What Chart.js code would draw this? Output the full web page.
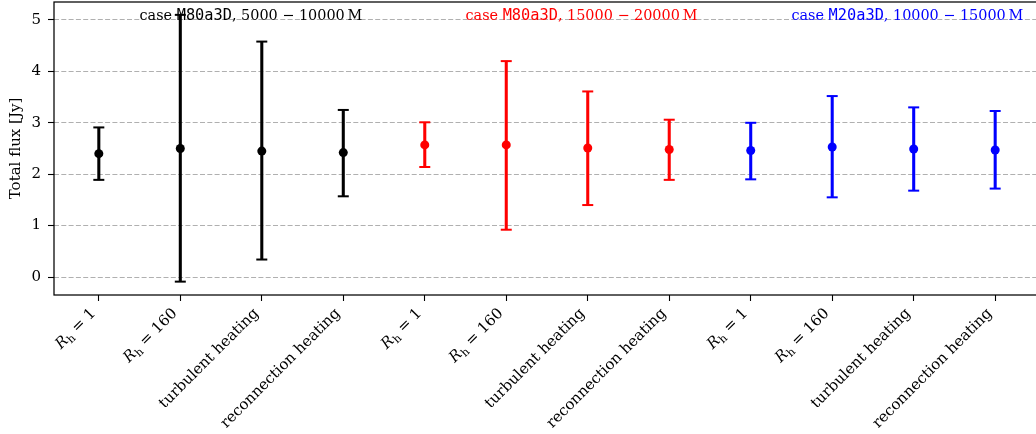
<!DOCTYPE html>
<html>
<head>
<meta charset="utf-8">
<script src="https://cdn.jsdelivr.net/npm/chart.js@4.4.1/dist/chart.umd.min.js"></script>
<style>
  html, body { margin: 0; padding: 0; background: #fff; overflow: hidden; width: 1036px; height: 434px; }
  #wrap { width: 1044px; height: 434px; }
</style>
</head>
<body>
<div id="wrap"><canvas id="c" width="1044" height="434"></canvas></div>
<script>
// Heating prescriptions shown for each simulation case
const categories = ['R_h = 1', 'R_h = 160', 'turbulent heating', 'reconnection heating'];

// Simulation cases and their time windows (in M)
const caseNames = ['M80a3D', 'M80a3D', 'M20a3D'];
const caseWindows = ['5000 \u2212 10000', '15000 \u2212 20000', '10000 \u2212 15000'];
const caseColors = ['#000000', '#ff0000', '#0000ff'];

// Total flux [Jy]: mean value and lower / upper ends of the spread
const fluxM80early = [2.40, 2.50, 2.45, 2.42];
const lowM80early  = [1.89, -0.09, 0.34, 1.57];
const highM80early = [2.91, 5.10, 4.58, 3.25];

const fluxM80late = [2.57, 2.57, 2.51, 2.48];
const lowM80late  = [2.14, 0.92, 1.40, 1.89];
const highM80late = [3.01, 4.20, 3.61, 3.06];

const fluxM20 = [2.46, 2.53, 2.49, 2.47];
const lowM20  = [1.90, 1.55, 1.68, 1.72];
const highM20 = [3.00, 3.52, 3.30, 3.23];

const yTickValues = [0, 1, 2, 3, 4, 5];

const SERIF = '"DejaVu Serif"';
const MONO = '"DejaVu Sans Mono"';
const FS = 15;

const groups = [
  { flux: fluxM80early, low: lowM80early, high: highM80early },
  { flux: fluxM80late,  low: lowM80late,  high: highM80late },
  { flux: fluxM20,      low: lowM20,      high: highM20 }
];

const points = [], bars = [], caps = [];
const pointColors = [], barColors = [], capColors = [];
groups.forEach((g, gi) => {
  g.flux.forEach((v, i) => {
    const x = gi * categories.length + i;
    points.push({ x, y: v });
    bars.push({ x, y: [g.low[i], g.high[i]] });
    caps.push({ x, y: g.low[i] }, { x, y: g.high[i] });
    pointColors.push(caseColors[gi]);
    barColors.push(caseColors[gi]);
    capColors.push(caseColors[gi], caseColors[gi]);
  });
});
const nTicks = groups.length * categories.length;

// rich text helpers (italic R with subscript h)
function segsFor(label, size) {
  if (label.startsWith('R_h')) {
    return [
      { t: 'R', font: `italic ${size}px ${SERIF}`, dy: 0 },
      { t: 'h', font: `${Math.round(size * 0.7)}px ${SERIF}`, dy: size * 0.22 },
      { t: label.slice(3), font: `${size}px ${SERIF}`, dy: 0 }
    ];
  }
  return [{ t: label, font: `${size}px ${SERIF}`, dy: 0 }];
}
function measureSegs(ctx, segs) {
  let w = 0;
  segs.forEach(s => { ctx.font = s.font; s.w = ctx.measureText(s.t).width; w += s.w; });
  return w;
}
function drawSegs(ctx, segs, x, y) {
  segs.forEach(s => { ctx.font = s.font; ctx.fillText(s.t, x, y + s.dy); x += s.w; });
}

// rotated category labels under the x axis
const xLabelPlugin = {
  id: 'xLabels',
  afterDraw(chart) {
    const ctx = chart.ctx, xs = chart.scales.x;
    const top = xs.top + 6 + 5;
    const asc = FS * 0.76, desc = FS * 0.24;
    ctx.save();
    ctx.fillStyle = '#000';
    ctx.textBaseline = 'alphabetic';
    ctx.textAlign = 'left';
    for (let i = 0; i < nTicks; i++) {
      const px = xs.getPixelForValue(i);
      const segs = segsFor(categories[i % categories.length], FS);
      const w = measureSegs(ctx, segs);
      ctx.save();
      ctx.translate(px - 0.7071 * desc, top + 0.7071 * asc);
      ctx.rotate(-Math.PI / 4);
      drawSegs(ctx, segs, -w, 0);
      ctx.restore();
    }
    ctx.restore();
  }
};

// case titles across the top of the panel, left-aligned at these x values
const caseLabelX = [0.5, 4.5, 8.5];
const caseLabelPlugin = {
  id: 'caseLabels',
  beforeDatasetsDraw(chart) {
    const ctx = chart.ctx, xs = chart.scales.x, ys = chart.scales.y;
    ctx.save();
    ctx.textBaseline = 'alphabetic';
    ctx.textAlign = 'left';
    caseNames.forEach((name, gi) => {
      const segs = [
        { t: 'case ', font: `${FS - 0.6}px ${SERIF}`, dy: 0 },
        { t: name, font: `${FS + 0.3}px ${MONO}`, dy: 0 },
        { t: ', ' + caseWindows[gi] + '\u2009M', font: `${FS - 0.6}px ${SERIF}`, dy: 0 }
      ];
      measureSegs(ctx, segs);
      const x = xs.getPixelForValue(caseLabelX[gi]);
      const y = ys.getPixelForValue(5.0) + 0.5;
      ctx.fillStyle = caseColors[gi];
      drawSegs(ctx, segs, x, y);
    });
    ctx.restore();
  }
};

// full axes frame
const framePlugin = {
  id: 'frame',
  afterDraw(chart) {
    const { ctx, chartArea: a } = chart;
    ctx.save();
    ctx.strokeStyle = '#000';
    ctx.lineWidth = 1.25;
    ctx.strokeRect(a.left, a.top, a.right - a.left, a.bottom - a.top);
    ctx.restore();
  }
};

new Chart(document.getElementById('c'), {
  type: 'scatter',
  data: {
    datasets: [
      { type: 'scatter', data: points, pointRadius: 4.5, pointBackgroundColor: pointColors,
        pointBorderColor: pointColors, pointBorderWidth: 0, order: 0 },
      { type: 'scatter', data: caps, pointStyle: 'line', pointRadius: 5.5,
        pointBorderColor: capColors, pointBorderWidth: 2, order: 1 },
      { type: 'bar', data: bars, backgroundColor: barColors, borderWidth: 0,
        barThickness: 2.4, grouped: false, order: 2 }
    ]
  },
  options: {
    responsive: false,
    animation: false,
    events: [],
    layout: { autoPadding: false, padding: { top: 2, right: 4, left: 0, bottom: 0 } },
    plugins: { legend: { display: false }, tooltip: { enabled: false } },
    scales: {
      x: {
        type: 'linear', min: -0.55, max: 11.55, offset: false,
        grid: { display: true, drawOnChartArea: false, drawTicks: true, tickLength: 6,
                tickColor: '#000', tickWidth: 1.1, offset: false },
        border: { display: false },
        ticks: { display: false, stepSize: 1, includeBounds: false },
        afterFit(s) { s.height = 139; s.paddingLeft = 0; s.paddingRight = 0; }
      },
      y: {
        type: 'linear', min: -0.35, max: 5.35,
        afterBuildTicks(s) { s.ticks = yTickValues.map(v => ({ value: v })); },
        grid: { color: '#b0b0b0', lineWidth: 1, tickColor: '#000', tickLength: 6, tickWidth: 1.1 },
        border: { display: false, dash: [5, 2.3] },
        ticks: { stepSize: 1, includeBounds: false, padding: 7, color: '#000',
                 font: { family: 'DejaVu Serif', size: FS } },
        title: { display: true, text: 'Total flux [Jy]', color: '#000',
                 font: { family: 'DejaVu Serif', size: FS }, padding: { top: 7, bottom: 0 } },
        afterFit(s) { s.width = 54; s.paddingTop = 0; s.paddingBottom = 0; }
      }
    }
  },
  plugins: [framePlugin, xLabelPlugin, caseLabelPlugin]
});
</script>
</body>
</html>
